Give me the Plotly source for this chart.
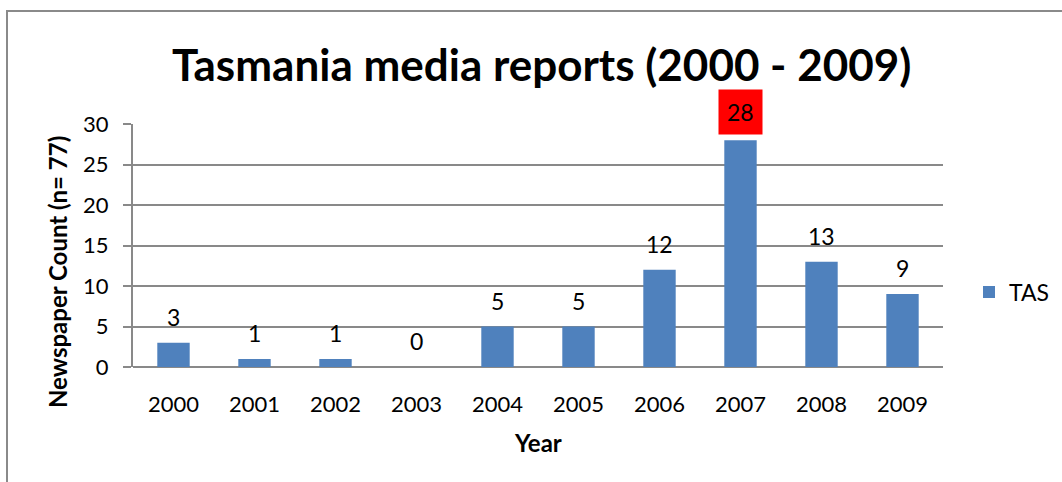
import plotly.graph_objects as go

# Newspaper article counts per year, Tasmania
years = ["2000", "2001", "2002", "2003", "2004", "2005", "2006", "2007", "2008", "2009"]
counts = [3, 1, 1, 0, 5, 5, 12, 28, 13, 9]
series_name = "TAS"
highlight_year = "2007"

W, H = 1062, 482
L, R, T, B = 133, 119, 124, 115
plot_w = W - L - R
plot_h = H - T - B

FONT = "Lato"
BAR = "#4F81BD"
GRID = "#898989"


def px_x(px):
    return (px - L) / plot_w


def px_y(py):
    return (H - B - py) / plot_h


fig = go.Figure()
fig.add_trace(go.Bar(
    x=years, y=counts, name=series_name,
    marker=dict(color=BAR, line=dict(width=0)),
    width=0.4,
))

# value labels above bars (x given as category index)
for i, (yr, v) in enumerate(zip(years, counts)):
    hl = yr == highlight_year
    fig.add_annotation(
        x=i, y=v, xref="x", yref="y", text=str(v),
        showarrow=False, yanchor="middle", yshift=28 if hl else 26,
        font=dict(family=FONT, size=23, color="black"),
        bgcolor="#FF0000" if hl else None,
        borderpad=8 if hl else 0,
    )

# chart title and axis titles
fig.add_annotation(
    x=px_x(541), y=px_y(64), xref="paper", yref="paper",
    text="<b>Tasmania media reports (2000 - 2009)</b>", showarrow=False,
    xanchor="center", yanchor="middle",
    font=dict(family=FONT, size=44, color="black"),
)
fig.add_annotation(
    x=px_x(57), y=px_y(272), xref="paper", yref="paper",
    text="<b>Newspaper Count (n= 77)</b>", showarrow=False, textangle=-90,
    xanchor="center", yanchor="middle",
    font=dict(family=FONT, size=24, color="black"),
)
fig.add_annotation(
    x=px_x(538), y=px_y(442), xref="paper", yref="paper",
    text="<b>Year</b>", showarrow=False,
    xanchor="center", yanchor="middle",
    font=dict(family=FONT, size=24, color="black"),
)

# outer chart frame
fig.add_shape(
    type="rect", xref="paper", yref="paper",
    x0=px_x(7), y0=px_y(490), x1=px_x(1070), y1=px_y(11),
    line=dict(color="#8a8a8a", width=2), fillcolor="rgba(0,0,0,0)",
    layer="below",
)

fig.update_layout(
    width=W, height=H,
    margin=dict(l=L, r=R, t=T, b=B, pad=0, autoexpand=False),
    paper_bgcolor="white", plot_bgcolor="white",
    font=dict(family=FONT, size=22, color="black"),
    showlegend=True,
    legend=dict(
        xref="container", yref="container",
        x=969 / W, y=1 - 292 / H, xanchor="left", yanchor="middle",
        font=dict(family=FONT, size=23, color="black"),
        bgcolor="rgba(0,0,0,0)",
    ),
)
fig.update_xaxes(
    type="category", range=[-0.5, len(years) - 0.5],
    showgrid=False, showline=False, ticks="",
    tickfont=dict(family=FONT, size=22, color="black"),
    ticklabelstandoff=22,
)
fig.update_yaxes(
    range=[0, 30], dtick=5, showgrid=True, gridcolor=GRID, gridwidth=2,
    showline=True, linecolor=GRID, linewidth=2,
    zeroline=True, zerolinecolor=GRID, zerolinewidth=2,
    ticks="outside", ticklen=8, tickcolor=GRID, tickwidth=2,
    tickfont=dict(family=FONT, size=22, color="black"),
    ticklabelstandoff=10,
)

fig.write_html("out.html")
